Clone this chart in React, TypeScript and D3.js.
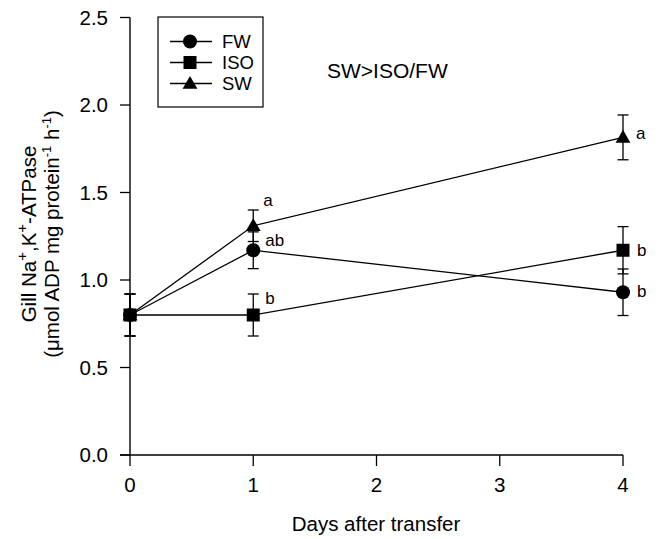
import * as d3 from "d3";

const days = [0, 1, 4];
const xTicks = [0, 1, 2, 3, 4];
const yTicks = [0, 0.5, 1.0, 1.5, 2.0, 2.5];

const fwMean = [0.8, 1.17, 0.93];
const fwErr = [0.12, 0.105, 0.133];
const isoMean = [0.8, 0.8, 1.17];
const isoErr = [0.12, 0.12, 0.135];
const swMean = [0.8, 1.31, 1.815];
const swErr = [0.12, 0.09, 0.128];

// significance letters per series, per day
const fwLetters = ["", "ab", "b"];
const isoLetters = ["", "b", "b"];
const swLetters = ["", "a", "a"];

const W = 659;
const H = 539;
const FONT = "'Liberation Sans', Arial, Helvetica, sans-serif";

const x = d3.scaleLinear().domain([0, 4]).range([130, 623]);
const y = d3.scaleLinear().domain([0, 2.5]).range([455, 17.5]);

type Shape = "circle" | "square" | "triangle";

function Marker({ shape, cx, cy }: { shape: Shape; cx: number; cy: number }) {
  if (shape === "circle") return <circle cx={cx} cy={cy} r={7} fill="#000" />;
  if (shape === "square")
    return <rect x={cx - 6.5} y={cy - 6.5} width={13} height={13} fill="#000" />;
  const sym = d3.symbol().type(d3.symbolTriangle).size(95)();
  return <path d={sym || ""} transform={`translate(${cx},${cy + 1})`} fill="#000" />;
}

const series = [
  {
    name: "SW",
    shape: "triangle" as Shape,
    mean: swMean,
    err: swErr,
    letters: swLetters,
    offs: [[0, 0], [10, -20], [13, 2]],
  },
  {
    name: "FW",
    shape: "circle" as Shape,
    mean: fwMean,
    err: fwErr,
    letters: fwLetters,
    offs: [[0, 0], [12, -4], [14, 5]],
  },
  {
    name: "ISO",
    shape: "square" as Shape,
    mean: isoMean,
    err: isoErr,
    letters: isoLetters,
    offs: [[0, 0], [12, -11], [14, 6]],
  },
];

const legendOrder = ["FW", "ISO", "SW"];

export default function App() {
  const line = d3
    .line<number>()
    .x((_, i) => x(days[i]))
    .y((d) => y(d));

  return (
    <svg
      width={W}
      height={H}
      style={{ position: "absolute", left: 0, top: 0, background: "#fff" }}
      fontFamily={FONT}
    >
      {/* axes */}
      <line x1={130} x2={130} y1={y(2.5)} y2={y(0)} stroke="#000" strokeWidth={1.4} />
      <line x1={120} x2={x(4)} y1={y(0)} y2={y(0)} stroke="#000" strokeWidth={1.4} />
      {yTicks.map((t) => (
        <g key={"y" + t}>
          <line x1={120} x2={130} y1={y(t)} y2={y(t)} stroke="#000" strokeWidth={1.3} />
          <text x={108} y={y(t) + 7} textAnchor="end" fontSize={20.5}>
            {t.toFixed(1)}
          </text>
        </g>
      ))}
      {xTicks.map((t) => (
        <g key={"x" + t}>
          <line x1={x(t)} x2={x(t)} y1={y(0)} y2={y(0) + 11} stroke="#000" strokeWidth={1.3} />
          <text x={x(t)} y={492} textAnchor="middle" fontSize={20.5}>
            {t}
          </text>
        </g>
      ))}

      <text x={376} y={531} textAnchor="middle" fontSize={20.5}>
        Days after transfer
      </text>

      <g transform="translate(36,234) rotate(-90)">
        <text x={0} y={0} textAnchor="middle" fontSize={20.5}>
          Gill Na
          <tspan fontSize={15} dy={-9}>+</tspan>
          <tspan dy={9}>,K</tspan>
          <tspan fontSize={15} dy={-9}>+</tspan>
          <tspan dy={9}>-ATPase</tspan>
        </text>
        <text x={0} y={23} textAnchor="middle" fontSize={20.5}>
          (μmol ADP mg protein
          <tspan fontSize={13} dy={-8}>-1</tspan>
          <tspan dy={8}> h</tspan>
          <tspan fontSize={13} dy={-8}>-1</tspan>
          <tspan dy={8}>)</tspan>
        </text>
      </g>

      {/* lines */}
      {series.map((s) => (
        <path key={"l" + s.name} d={line(s.mean) || ""} fill="none" stroke="#000" strokeWidth={1.3} />
      ))}

      {/* error bars */}
      {series.map((s) =>
        s.mean.map((m, i) => {
          const cx = x(days[i]);
          const top = y(m + s.err[i]);
          const bot = y(m - s.err[i]);
          return (
            <g key={"e" + s.name + i} stroke="#000" strokeWidth={1.3}>
              <line x1={cx} x2={cx} y1={top} y2={bot} />
              <line x1={cx - 5.5} x2={cx + 5.5} y1={top} y2={top} />
              <line x1={cx - 5.5} x2={cx + 5.5} y1={bot} y2={bot} />
            </g>
          );
        })
      )}

      {/* markers */}
      {series.map((s) =>
        s.mean.map((m, i) => (
          <Marker key={"m" + s.name + i} shape={s.shape} cx={x(days[i])} cy={y(m)} />
        ))
      )}

      {/* letters */}
      {series.map((s) =>
        s.letters.map((l, i) =>
          l ? (
            <text
              key={"t" + s.name + i}
              x={x(days[i]) + s.offs[i][0]}
              y={y(s.mean[i]) + s.offs[i][1]}
              fontSize={17}
            >
              {l}
            </text>
          ) : null
        )
      )}

      <text x={327} y={78} fontSize={21}>
        SW&gt;ISO/FW
      </text>

      {/* legend */}
      <rect x={158} y={17} width={105} height={90} fill="#fff" stroke="#000" strokeWidth={1.2} />
      {legendOrder.map((name, i) => {
        const s = series.find((d) => d.name === name)!;
        const ly = 41.5 + i * 21;
        return (
          <g key={"lg" + name}>
            <line x1={170} x2={212} y1={ly} y2={ly} stroke="#000" strokeWidth={1.3} />
            <Marker shape={s.shape} cx={190} cy={ly} />
            <text x={222} y={ly + 6.5} fontSize={18.5}>
              {name}
            </text>
          </g>
        );
      })}
    </svg>
  );
}
